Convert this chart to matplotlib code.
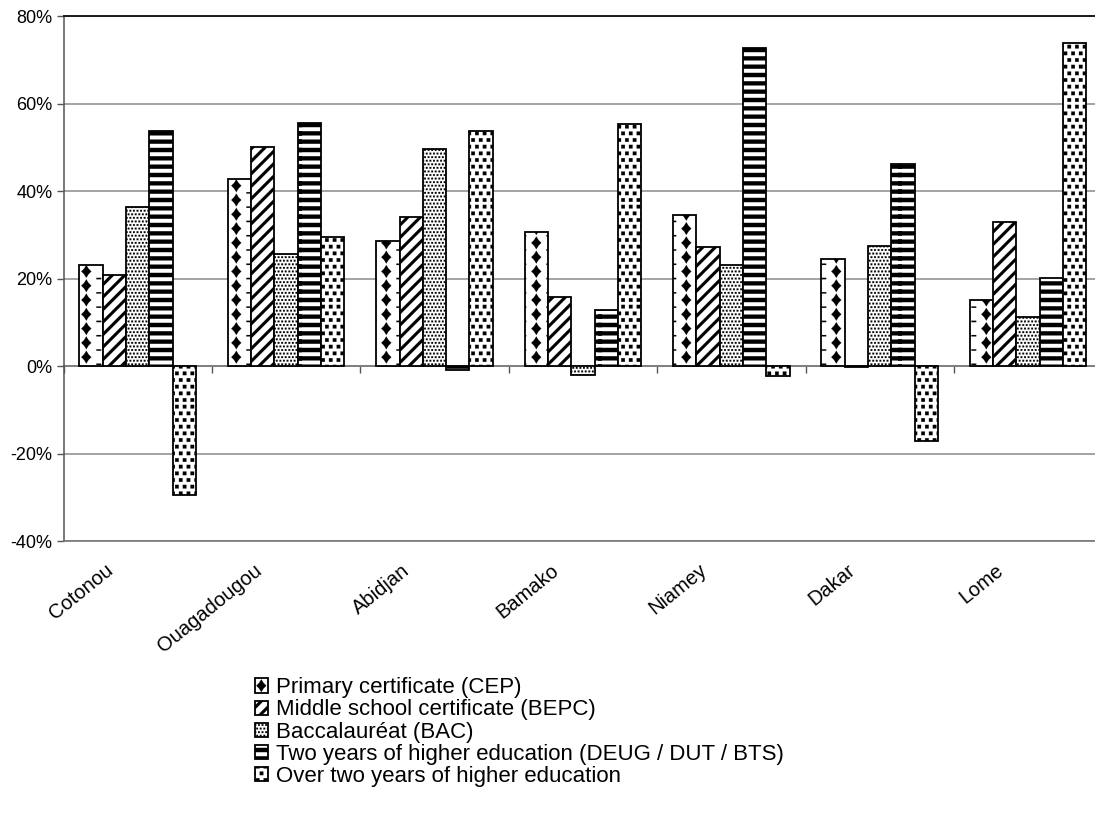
import numpy as np
import matplotlib
matplotlib.use("Agg")
import matplotlib.pyplot as plt
import matplotlib.hatch as mhatch
from matplotlib.path import Path
from matplotlib.ticker import PercentFormatter
from matplotlib.transforms import ScaledTranslation

# growth by diploma level, per city (%)
cities = ["Cotonou", "Ouagadougou", "Abidjan", "Bamako", "Niamey", "Dakar", "Lome"]
cep = [23.1, 42.8, 28.6, 30.7, 34.6, 24.4, 15.0]
bepc = [20.9, 50.1, 34.1, 15.8, 27.1, -0.3, 32.9]
bac = [36.4, 25.6, 49.6, -2.1, 23.0, 27.4, 11.1]
deug = [53.8, 55.6, -0.9, 12.9, 72.6, 46.2, 20.1]
over = [-29.5, 29.6, 53.8, 55.3, -2.3, -17.2, 73.9]
labels = ["Primary certificate (CEP)",
          "Middle school certificate (BEPC)",
          "Baccalauréat (BAC)",
          "Two years of higher education (DEUG / DUT / BTS)",
          "Over two years of higher education"]


# --- black & white fill patterns, built as filled polygons in the 1x1 hatch cell ---
def _tile(centers, shape):
    polys = []
    w = np.abs(shape[:, 0]).max()
    h = np.abs(shape[:, 1]).max()
    for cx, cy in centers:
        for dx in (-1, 0, 1):
            for dy in (-1, 0, 1):
                x, y = cx + dx, cy + dy
                if x + w < 0 or x - w > 1 or y + h < 0 or y - h > 1:
                    continue
                polys.append(shape + [x, y])
    return polys


def _grid(nx, ny, stagger=True):
    pts = []
    for r in range(ny):
        shift = 0.5 / nx if (stagger and r % 2) else 0.0
        for c in range(nx):
            pts.append((c / nx + shift, r / ny))
    return pts


def _rect(hw, hh):
    return np.array([[-hw, -hh], [hw, -hh], [hw, hh], [-hw, hh]])


def _diamonds():
    a, b, k = 0.05, 0.064, 0.44
    x0 = 0.113
    star = np.array([[a, 0], [a * k, b * k], [0, b], [-a * k, b * k],
                     [-a, 0], [-a * k, -b * k], [0, -b], [a * k, -b * k]])
    pts = [(x0 + c / 4, r / 7) for r in range(7) for c in range(4)]
    dash = [(x0 + c / 4 + 1 / 8, r / 7 + 1 / 14) for r in range(7) for c in range(4)]
    return _tile(pts, star) + _tile(dash, _rect(0.024, 0.007))


def _diagonals():
    t = 0.021
    polys = []
    for c in np.arange(-1, 1.001, 1 / 8):
        polys.append(np.array([[-0.1, -0.1 + c - t], [1.1, 1.1 + c - t],
                               [1.1, 1.1 + c + t], [-0.1, -0.1 + c + t]]))
    return polys


def _fine():
    return _tile(_grid(28, 28), _rect(0.0088, 0.0088))


def _stripes():
    return _tile([(0.5, k / 12) for k in range(12)], _rect(0.52, 0.021))


def _squares():
    return _tile(_grid(13, 15), _rect(0.018, 0.018))


PATTERNS = {"o": _diamonds, "/": _diagonals, "x": _fine,
            "-": _stripes, ".": _squares}


class PolyHatch(mhatch.HatchPatternBase):
    def __init__(self, hatch, density):
        self.polys = []
        for ch, make in PATTERNS.items():
            if ch in hatch:
                self.polys += make()
        self.num_vertices = sum(len(p) + 1 for p in self.polys)

    def set_vertices_and_codes(self, vertices, codes):
        i = 0
        for p in self.polys:
            n = len(p)
            vertices[i:i + n] = p
            vertices[i + n] = p[0]
            codes[i] = Path.MOVETO
            codes[i + 1:i + n] = Path.LINETO
            codes[i + n] = Path.CLOSEPOLY
            i += n + 1


mhatch._hatch_types[:] = [PolyHatch]

plt.rcParams["font.family"] = ["Liberation Sans", "DejaVu Sans"]
plt.rcParams["axes.unicode_minus"] = False
plt.rcParams["hatch.linewidth"] = 0.1
plt.rcParams["hatch.color"] = "black"

fig = plt.figure(figsize=(10.95, 8.21), dpi=100)
ax = fig.add_axes([0.058, 0.341, 0.9487, 0.6395])

series = [cep, bepc, bac, deug, over]
hatches = ["o", "/", "x", "-", "."]
x = np.arange(len(cities))
w = 0.157
for k, (vals, hat, lab) in enumerate(zip(series, hatches, labels)):
    ax.bar(x + (k - 2) * w, vals, w, color="white", edgecolor="black",
           linewidth=1.3, hatch=hat, label=lab, zorder=3)

ax.set_xlim(-0.5, len(cities) - 0.5)
ax.set_ylim(-40, 80)
ax.set_yticks(np.arange(-40, 81, 20))
ax.yaxis.set_major_formatter(PercentFormatter(100, decimals=0))
ax.yaxis.grid(True, color="#8a8a8a", linewidth=1.1)
ax.set_axisbelow(True)

ax.spines["top"].set_color("#1a1a1a")
ax.spines["top"].set_linewidth(1.4)
ax.spines["right"].set_visible(False)
ax.spines["left"].set_color("#555555")
ax.spines["left"].set_linewidth(1.1)
ax.spines["bottom"].set_color("#777777")
ax.spines["bottom"].set_linewidth(1.2)

ax.tick_params(axis="y", length=5, width=1, color="#555555", pad=3,
               labelsize=13)
ax.set_xticks(x)
ax.set_xticklabels(cities, rotation=39, ha="right", fontsize=14.5)
ax.tick_params(axis="x", length=0, pad=14)
for lbl in ax.get_xticklabels():
    lbl.set_transform(lbl.get_transform() +
                      ScaledTranslation(-0.21, 0, fig.dpi_scale_trans))

# category axis drawn on the zero line, ticks between cities
zero = ax.secondary_xaxis(40 / 120)
zero.set_xticks(np.arange(len(cities) + 1) - 0.5)
zero.set_xticklabels([])
zero.xaxis.set_ticks_position("bottom")
zero.tick_params(axis="x", direction="out", length=5, width=1,
                 color="#555555")
zero.spines["bottom"].set_color("#444444")
zero.spines["bottom"].set_linewidth(1.2)

fig.legend(loc="upper left", bbox_to_anchor=(0.233, 0.175), frameon=False,
           fontsize=16, handlelength=0.6, handleheight=0.6,
           handletextpad=0.35, labelspacing=0.05, borderpad=0,
           borderaxespad=0)

fig.savefig("out.png", dpi=100)
